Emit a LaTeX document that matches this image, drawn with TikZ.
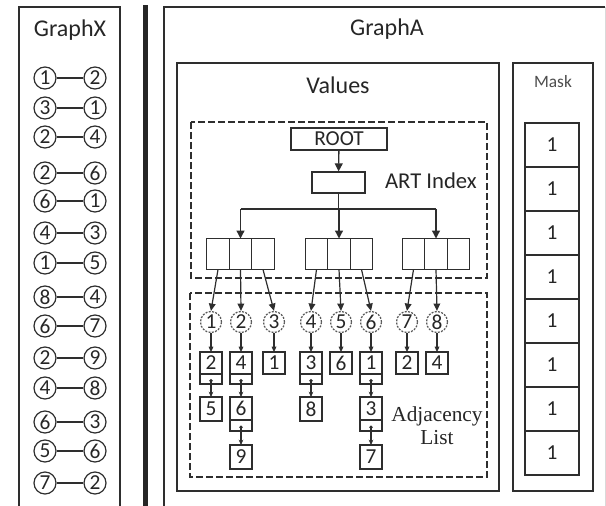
\documentclass[tikz,border=0pt]{standalone}
\usepackage{fontspec}
\setmainfont{Carlito}
\newfontfamily\adjserif{Liberation Serif}
\usetikzlibrary{arrows.meta}
\definecolor{linec}{HTML}{2E2E2E}
\definecolor{textc}{HTML}{262626}
\begin{document}
\begin{tikzpicture}[x=0.75pt,y=-0.75pt,
  line width=1pt, draw=linec, text=textc,
  frame/.style={draw=linec, line width=1.1pt},
  titletext/.style={font=\fontsize{18}{20}\selectfont, text=textc},
  gx/.style={circle, draw=linec, line width=0.9pt, minimum size=22*0.75pt, inner sep=0pt, font=\fontsize{16}{16}\selectfont},
  adjc/.style={circle, draw=black!65, line width=0.9pt, dash pattern=on 1.5pt off 1pt, minimum size=21*0.75pt, inner sep=0pt, font=\fontsize{16}{16}\selectfont},
  cellbox/.style={draw=linec, line width=1pt, minimum width=22*0.75pt, minimum height=22*0.75pt, inner sep=0pt, outer sep=0pt, font=\fontsize{16}{16}\selectfont, anchor=north},
  ptrbox/.style={draw=linec, line width=1pt, minimum width=22*0.75pt, minimum height=10*0.75pt, inner sep=0pt, outer sep=0pt, anchor=north},
  tcell/.style={draw=linec, line width=1.1pt, minimum width=22.5*0.75pt, minimum height=31*0.75pt, inner sep=0pt, outer sep=0pt},
  maskcell/.style={draw=linec, line width=1pt, minimum width=54*0.75pt, minimum height=44*0.75pt, inner sep=0pt, outer sep=0pt, font=\fontsize{16}{16}\selectfont},
  bigarr/.style={-{Triangle[length=6pt,width=6pt]}, line width=1pt},
  midarr/.style={-{Triangle[length=5.5pt,width=5pt]}, line width=0.9pt},
  smallarr/.style={-{Triangle[length=4pt,width=3.5pt]}, line width=0.8pt},
  ptrarr/.style={{Circle[length=2.5pt]}-{Stealth[length=4pt,width=3.5pt]}, line width=0.8pt},
  dbox/.style={draw=linec, line width=1pt, dash pattern=on 5pt off 2.5pt}
]
\useasboundingbox (0,0) rectangle (606,506);

% ---------------- GraphX ----------------
\draw[frame] (19,506) -- (19,7) -- (120,7) -- (120,506);
\node[titletext] (gxtitle) at (70,30) {GraphX};
\foreach \y/\a/\b [count=\i] in {78/1/2,108/3/1,137/2/4,173/2/6,201/6/1,233/4/3,263/1/5,297/8/4,326/6/7,358/2/9,388/4/8,422/6/3,451/5/6,483/7/2}{
  \node[gx] (l\i) at (45,\y) {\a};
  \node[gx] (r\i) at (95,\y) {\b};
  \draw[line width=0.9pt] (l\i) -- (r\i);
}

% separator bar
\fill[fill=black!85] (143,5) rectangle (148,506);

% ---------------- GraphA ----------------
\draw[frame] (164,506) -- (164,7) -- (605,7);
\draw[draw=black!15, line width=0.6pt] (605,7) -- (605,506);
\node[titletext] (gatitle) at (387,29) {GraphA};

% Values
\draw[frame] (177,63) rectangle (499,491);
\node[titletext] (valtitle) at (338,85) {Values};

% ART index
\draw[dbox] (191,122) rectangle (487,278);
\node[draw=linec, line width=1pt, minimum width=96*0.75pt, minimum height=22*0.75pt, inner sep=0pt, font=\fontsize{16}{16}\selectfont] (root) at (339,139) {ROOT};
\node[draw=linec, line width=1pt, minimum width=53*0.75pt, minimum height=21*0.75pt, inner sep=0pt] (inner) at (338.5,182.5) {};
\node[font=\fontsize{17}{20}\selectfont, text=textc, anchor=west] (artlbl) at (380,181) {ART Index};
\draw[bigarr] (root) -- (inner);

% triples
\foreach \n/\cx in {L/240.5, M/339, R/436}{
  \node[tcell] (\n2) at (\cx,254) {};
  \node[tcell, anchor=east] (\n1) at (\n2.west) {};
  \node[tcell, anchor=west] (\n3) at (\n2.east) {};
}
\coordinate (branch) at (338.5,209);
\draw[line width=1pt] (inner.south) -- (branch);
\draw[line width=1pt] (240.5,209) -- (436,209);
\draw[bigarr] (240.5,209) -- (L2.north);
\draw[bigarr] (339,209) -- (M2.north);
\draw[bigarr] (436,209) -- (R2.north);

% Adjacency list
\draw[dbox] (190,293) rectangle (487,477);
\foreach \k/\x in {1/211,2/241,3/274,4/311,5/341,6/371,7/407,8/437}{
  \node[adjc] (c\k) at (\x,322) {\k};
}
\draw[midarr] (L1.south) -- (c1.north);
\draw[midarr] (L2.south) -- (c2.north);
\draw[midarr] (L3.south) -- (c3.north);
\draw[midarr] (M1.south) -- (c4.north);
\draw[midarr] (M2.south) -- (c5.north);
\draw[midarr] (M3.south) -- (c6.north);
\draw[midarr] (R1.south) -- (c7.north);
\draw[midarr] (R2.south) -- (c8.north);

% list boxes
% column 1
\node[cellbox] (b1a) at (211,352) {2};
\node[ptrbox] (p1a) at (b1a.south) {};
\node[cellbox, minimum height=24*0.75pt] (b1b) at (211,397) {5};
% column 2
\node[cellbox] (b2a) at (241,352) {4};
\node[ptrbox] (p2a) at (b2a.south) {};
\node[cellbox, minimum height=23*0.75pt] (b2b) at (241,397) {6};
\node[ptrbox, minimum height=11*0.75pt] (p2b) at (b2b.south) {};
\node[cellbox, minimum height=24*0.75pt] (b2c) at (241,445) {9};
% column 3
\node[cellbox] (b3a) at (274,352) {1};
% column 4
\node[cellbox] (b4a) at (311,352) {3};
\node[ptrbox] (p4a) at (b4a.south) {};
\node[cellbox, minimum height=24*0.75pt] (b4b) at (311,397) {8};
% column 5
\node[cellbox] (b5a) at (341,352) {6};
% column 6
\node[cellbox] (b6a) at (371,352) {1};
\node[ptrbox] (p6a) at (b6a.south) {};
\node[cellbox, minimum height=23*0.75pt] (b6b) at (371,397) {3};
\node[ptrbox, minimum height=11*0.75pt] (p6b) at (b6b.south) {};
\node[cellbox, minimum height=24*0.75pt] (b6c) at (371,445) {7};
% column 7, 8
\node[cellbox] (b7a) at (407,352) {2};
\node[cellbox] (b8a) at (437,352) {4};

\foreach \k/\b in {1/b1a,2/b2a,3/b3a,4/b4a,5/b5a,6/b6a,7/b7a,8/b8a}{
  \draw[smallarr] (c\k.south) -- (\b.north);
}
\draw[ptrarr] (p1a.center) -- (b1b.north);
\draw[ptrarr] (p2a.center) -- (b2b.north);
\draw[ptrarr] (p2b.center) -- (b2c.north);
\draw[ptrarr] (p4a.center) -- (b4b.north);
\draw[ptrarr] (p6a.center) -- (b6b.north);
\draw[ptrarr] (p6b.center) -- (b6c.north);

\node[align=center, font=\adjserif\fontsize{16}{17}\selectfont, text=textc] (adjlbl) at (437,426) {Adjacency\\List};

% ---------------- Mask ----------------
\draw[frame] (513,63) rectangle (593,491);
\node[font=\fontsize{13}{14}\selectfont, text=black!70] (masktitle) at (553,82) {Mask};
\foreach \i in {0,...,7}{
  \node[maskcell] (m\i) at (552,{145+44*\i}) {1};
}
\end{tikzpicture}
\end{document}
